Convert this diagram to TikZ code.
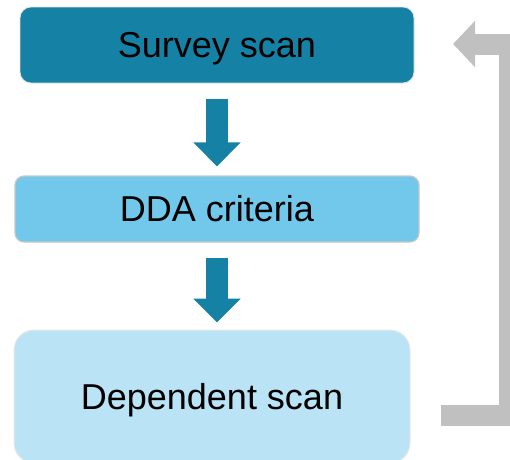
\documentclass[tikz,border=0pt]{standalone}
\usepackage{fontspec}
\setmainfont{Liberation Sans}
\usetikzlibrary{arrows.meta}
\definecolor{darkteal}{HTML}{1582A5}
\definecolor{midblue}{HTML}{72C8EB}
\definecolor{paleblue}{HTML}{BAE3F5}
\definecolor{loopgray}{HTML}{C0C0C0}
\begin{document}
\begin{tikzpicture}[x=1pt,y=-1pt,
  boxbase/.style={rectangle, inner sep=0pt, text height=25.8pt, text depth=0pt,
    font=\fontsize{36}{42}\selectfont, text=black},
  boxone/.style={boxbase, fill=darkteal, draw=black!12, line width=0.8pt,
    rounded corners=11pt, minimum width=394pt, minimum height=76pt},
  boxtwo/.style={boxbase, fill=midblue, draw=black!22, line width=1.2pt,
    rounded corners=9pt, minimum width=404pt, minimum height=66pt},
  boxthree/.style={boxbase, fill=paleblue, draw=black!9, line width=1pt,
    rounded corners=20pt, minimum width=396pt, minimum height=133pt},
  blockarrow/.style={draw=darkteal, line width=22pt,
    -{Triangle[width=46pt,length=24pt]}},
  looparrow/.style={draw=loopgray, line width=21pt, line join=miter,
    -{Triangle[width=45pt,length=22pt]}}
]
\useasboundingbox (0,0) rectangle (510,459);
\clip (0,0) rectangle (510,459);
\node[boxone]   (survey) at (217,45)    {Survey scan};
\node[boxtwo]   (dda)    at (217,209)   {DDA criteria};
\node[boxthree] (dep)    at (212,396.5) {Dependent scan};
\draw[blockarrow, shorten <=16pt, shorten >=9pt] (survey.south) -- (dda.north);
\draw[blockarrow, shorten <=15pt, shorten >=7pt] (dda.south) -- (dda.south |- dep.north);
\coordinate (loopstart) at (441,415.5);
\coordinate (loopend) at (453,44);
\draw[looparrow] (loopstart) -- (509.5,415.5) -- (509.5,44) -- (loopend);
\end{tikzpicture}
\end{document}
